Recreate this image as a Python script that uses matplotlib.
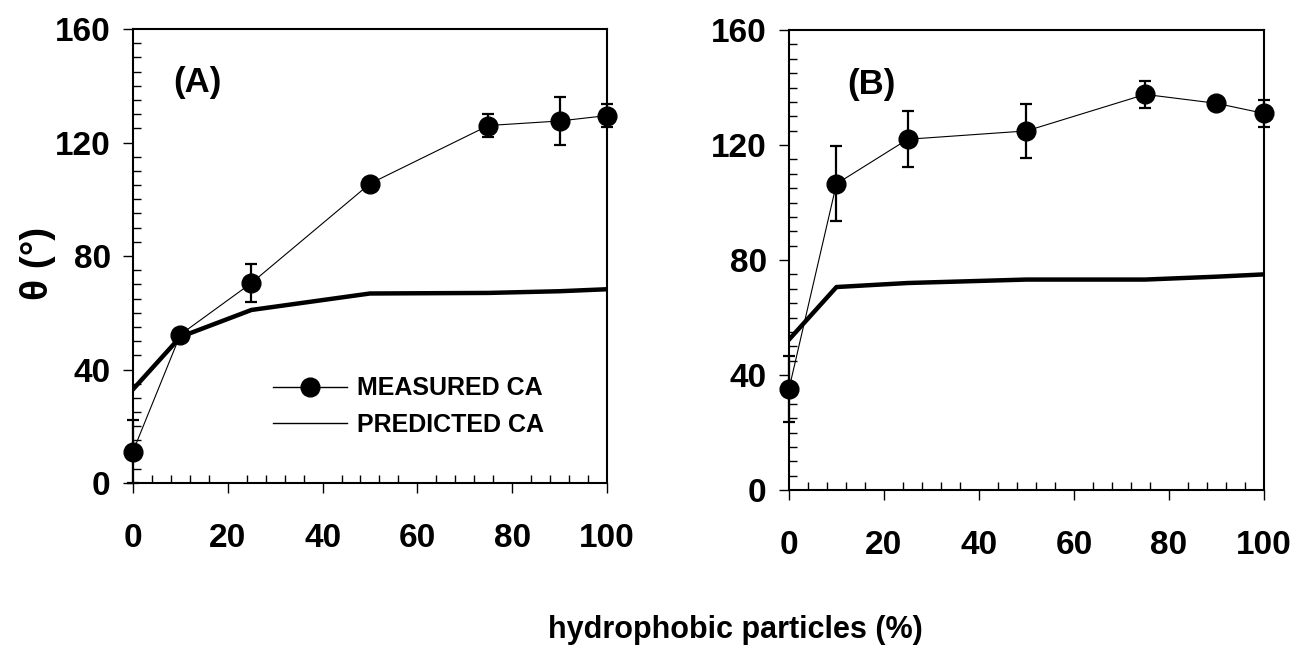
import numpy as np
import matplotlib
matplotlib.use('Agg')
import matplotlib.pyplot as plt
from matplotlib.lines import Line2D
from matplotlib.ticker import MultipleLocator

plt.rcParams['font.family'] = ['Liberation Sans', 'DejaVu Sans']
plt.rcParams['font.weight'] = 'bold'

x = [0, 10, 25, 50, 75, 90, 100]

# panel A
meas_a = [11.1, 52.3, 70.5, 105.5, 126.0, 127.6, 129.5]
err_a = [11.0, 0.0, 6.7, 0.0, 4.1, 8.6, 4.2]
pred_a = [33.0, 51.5, 61.0, 66.8, 67.0, 67.6, 68.3]

# panel B
meas_b = [35.1, 106.5, 122.0, 124.9, 137.6, 134.5, 131.0]
err_b = [11.5, 13.0, 9.7, 9.5, 4.7, 0.0, 4.8]
pred_b = [52.3, 70.6, 72.0, 73.2, 73.2, 74.2, 75.0]

fig = plt.figure(figsize=(12.97, 6.51), dpi=100)
axA = fig.add_axes([0.1025, 0.258, 0.3655, 0.6974])
axB = fig.add_axes([0.6083, 0.2473, 0.3662, 0.7066])

for ax, meas, err, pred, lab, lx in ((axA, meas_a, err_a, pred_a, '(A)', 8.6),
                                     (axB, meas_b, err_b, pred_b, '(B)', 12.3)):
    ax.plot(x, pred, 'k-', lw=3.2, zorder=2)
    ax.errorbar(x, meas, yerr=err, fmt='none', ecolor='k', elinewidth=1.6,
                capsize=4, capthick=1.6, zorder=3, clip_on=False)
    ax.plot(x, meas, 'k-', lw=0.8, marker='o', ms=13.5, zorder=4, clip_on=False)
    ax.set_xlim(0, 100)
    ax.set_ylim(0, 160)
    ax.xaxis.set_major_locator(MultipleLocator(20))
    ax.xaxis.set_minor_locator(MultipleLocator(4))
    ax.yaxis.set_major_locator(MultipleLocator(40))
    ax.yaxis.set_minor_locator(MultipleLocator(5))
    ax.tick_params(which='major', direction='out', length=7, width=1,
                   labelsize=24, top=False, right=False)
    ax.tick_params(axis='x', which='major', pad=22)
    ax.tick_params(axis='y', which='major', pad=9)
    ax.tick_params(which='minor', direction='in', length=6, width=1,
                   top=False, right=False)
    for s in ax.spines.values():
        s.set_linewidth(1.5)
    for t in ax.get_xticklabels() + ax.get_yticklabels():
        t.set_fontweight('bold')
    ax.text(lx, 141, lab, fontsize=25, fontweight='bold', ha='left', va='center')

handles = [Line2D([], [], color='k', lw=1, marker='o', ms=13.5),
           Line2D([], [], color='k', lw=1)]
lg = axA.legend(handles, ['MEASURED CA', 'PREDICTED CA'], loc='upper left',
                bbox_to_anchor=(0.295, 0.235), frameon=False, fontsize=18,
                handlelength=2.95, handletextpad=0.4, labelspacing=0.5,
                borderpad=0, borderaxespad=0)
for t in lg.get_texts():
    t.set_fontweight('bold')

fig.text(38 / 1297, 1 - 263 / 651, 'θ (°)', rotation=90, fontsize=28,
         fontweight='bold', ha='center', va='center')
fig.text(548 / 1297, 1 - 615 / 651, 'hydrophobic particles (%)', fontsize=22,
         fontweight='bold', ha='left', va='top')

fig.savefig('out.png', dpi=100)
